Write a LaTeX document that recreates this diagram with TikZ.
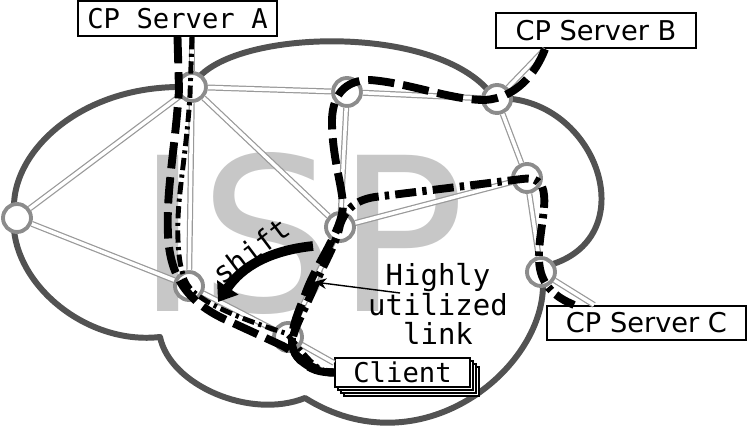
\documentclass[tikz,border=0pt]{standalone}
\usepackage{fontspec}
\setmainfont{DejaVu Sans}
\setmonofont{DejaVu Sans Mono}
\usetikzlibrary{arrows.meta,shadows,calc}

\newcommand\boxfont{\fontsize{15.5}{18}\selectfont}
\newcommand\notefont{\fontsize{16.5}{17}\selectfont}

\tikzset{
  router/.style={circle, draw=black!45, line width=2.2pt, fill=white, minimum size=0.56cm, inner sep=0pt},
  link/.style={draw=black!40, double=white, line width=0.7pt, double distance=2pt},
  srvbox/.style={draw=black, line width=1.2pt, fill=white, minimum height=0.7cm, minimum width=3.98cm, inner sep=0pt},
  stack/.style={copy shadow={draw=black, fill=white, shadow xshift=0.18cm, shadow yshift=-0.18cm},
                copy shadow={draw=black, fill=white, shadow xshift=0.12cm, shadow yshift=-0.12cm},
                copy shadow={draw=black, fill=white, shadow xshift=0.06cm, shadow yshift=-0.06cm}},
  flowdash/.style={line width=4.5pt, dash pattern=on 15pt off 5pt},
  flowdashdot/.style={line width=4.5pt, dash pattern=on 12pt off 3.5pt on 2.5pt off 3.5pt},
  flowthin/.style={line width=2.8pt, dash pattern=on 7pt off 2.5pt on 1.8pt off 2.5pt},
}

\begin{document}
\begin{tikzpicture}[x=0.02cm, y=0.02cm]
  \useasboundingbox (0,0) rectangle (747,-431);

  % big label behind everything
  \node[anchor=base, inner sep=0pt, text=black!22, font=\fontsize{122}{122}\selectfont] (isp) at (301,-312) {ISP};

  % the cloud
  \draw[black!68, line width=3.4pt, line join=round]
    (14,-205) .. controls (15,-150) and (80,-88) .. (178,-87)
    -- (200,-76) .. controls (245,-30) and (430,-25) .. (488,-90)
    -- (512,-99) .. controls (600,-110) and (640,-235) .. (553,-264)
    -- (543,-285) .. controls (543,-370) and (420,-470) .. (305,-398)
    .. controls (250,-420) and (170,-385) .. (160,-337)
    .. controls (90,-345) and (20,-290) .. (14,-230) -- cycle;

  % servers and client
  \node[srvbox, font=\ttfamily\boxfont] (srvA) at (177.5,-18.5) {CP Server A};
  \node[srvbox, minimum width=4cm, font=\boxfont] (srvB) at (596,-30.5) {CP Server B};
  \node[srvbox, minimum height=0.68cm, font=\boxfont] (srvC) at (646.5,-323) {CP Server C};
  \node[srvbox, stack, minimum width=2.7cm, minimum height=0.58cm, font=\ttfamily\boxfont] (cl) at (402.5,-372.5) {Client};

  % routers
  \node[router] (n1) at (17,-218) {};
  \node[router] (rA) at (192,-87) {};
  \node[router] (nt) at (347,-92) {};
  \node[router] (rB) at (497,-99) {};
  \node[router] (nr) at (527,-178) {};
  \node[router] (rC) at (541,-272) {};
  \node[router] (nc) at (340,-227) {};
  \node[router] (nl) at (189,-286) {};
  \node[router] (nb) at (288,-337) {};

  % links
  \draw[link] (rA) -- (srvA.south -| rA);
  \draw[link] (rA) -- (nt);
  \draw[link] (rA) -- (n1);
  \draw[link] (rA) -- (nc);
  \draw[link] (rA) -- (nl);
  \draw[link] (nt) -- (rB);
  \draw[link] (nt) -- (nc);
  \draw[link] (rB) -- (srvB.200);
  \draw[link] (rB) -- (nr);
  \draw[link] (nr) -- (nc);
  \draw[link] (nr) -- (rC);
  \draw[link] (rC) -- (srvC.161);
  \draw[link] (n1) -- (nl);
  \draw[link] (nl) -- (nb);
  \draw[link] (nc) -- (nb);
  \draw[link] (nb) -- (cl.172);

  % flows from server A
  \draw[flowdash] (srvA.south) -- (179,-90)
    .. controls (175,-150) and (166,-190) .. (168,-235)
    .. controls (170,-280) and (190,-305) .. (233,-323) -- (283,-346)
    .. controls (300,-355) and (310,-372.5) .. (cl.west);
  \draw[flowthin] (srvA.south -| rA) -- (190,-95)
    .. controls (186,-160) and (176,-200) .. (178,-240)
    .. controls (179,-270) and (185,-285) .. (195,-293)
    .. controls (215,-310) and (260,-325) .. (285,-333)
    .. controls (300,-345) and (312,-372.5) .. (cl.west);

  % flow from server B
  \draw[flowdash] (srvB.200)
    .. controls (535,-75) and (515,-98) .. (485,-100)
    .. controls (450,-100) and (410,-83) .. (370,-80)
    .. controls (345,-80) and (331,-95) .. (332,-125)
    .. controls (333,-160) and (342,-185) .. (343,-205)
    .. controls (343,-230) and (315,-265) .. (305,-295)
    .. controls (295,-320) and (284,-345) .. (300,-360)
    .. controls (310,-370) and (320,-372.5) .. (cl.west);

  % flow from server C
  \draw[flowdashdot] (srvC.166)
    .. controls (555,-297) and (540,-285) .. (539,-260)
    .. controls (538,-240) and (546,-210) .. (544,-195)
    .. controls (543,-182) and (535,-177) .. (522,-179) -- (375,-197)
    .. controls (355,-200) and (345,-210) .. (340,-225)
    .. controls (336,-245) and (323,-265) .. (315,-285)
    .. controls (305,-310) and (292,-330) .. (292,-345)
    .. controls (295,-362) and (315,-372.5) .. (cl.west);

  % shift
  \coordinate (shiftfrom) at (313,-246);
  \coordinate (shiftto) at (218,-302);
  \draw[line width=5.5pt, -{Triangle[length=10pt,width=14pt]}] (shiftfrom) to[out=186, in=56] (shiftto);
  \node[rotate=37, font=\ttfamily\notefont] (shift) at (251,-251) {shift};

  % highly utilized link
  \node[align=center, inner sep=0pt, font=\ttfamily\notefont] (hul) at (438,-304) {Highly\\utilized\\link};
  \coordinate (hultail) at (400,-293);
  \draw[line width=0.8pt, -{Stealth[length=7pt,width=6pt]}] (hultail) -- ($(nc)!0.5!(nb)$);
\end{tikzpicture}
\end{document}
